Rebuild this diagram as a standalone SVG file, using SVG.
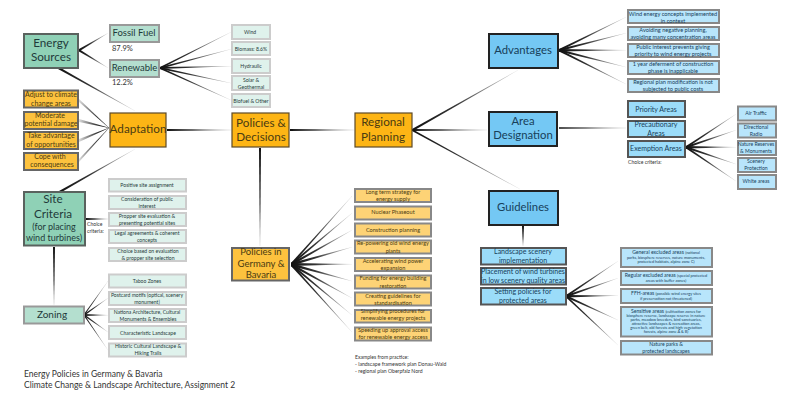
<svg xmlns="http://www.w3.org/2000/svg" width="800" height="400" viewBox="0 0 800 400">
<style>
text{font-family:"Lato","Liberation Sans",sans-serif;text-anchor:middle;fill:#1f3a3a}
.s{text-anchor:start;fill:#333}
.g1{fill:#8fd1b6;stroke:#5a625e;stroke-width:2}
.g2{fill:#b4dfcf;stroke:#999;stroke-width:2}
.g3{fill:#dff2ec;stroke:#ccc;stroke-width:2}
.o1{fill:#fdb515;stroke:#5c4a28;stroke-width:1.2}
.o2{fill:#fdc23e;stroke:#666;stroke-width:2}
.o3{fill:#fdd376;stroke:#888;stroke-width:2}
.b1{fill:#74c8f4;stroke:#222;stroke-width:2}
.b2{fill:#9bdcf9;stroke:#555;stroke-width:2}
.b3{fill:#b8e5fb;stroke:#888;stroke-width:2}
.o1~text,.o2~text,.o3~text{fill:#4a3b12}
.b1~text,.b2~text,.b3~text{fill:#17405a}
.t12{font-size:11.7px}.t11{font-size:11.3px}.t9{font-size:9.5px}.t7{font-size:7px}.t58{font-size:5.6px}.t5{font-size:5.1px}.t4{font-size:3.9px}
</style>
<defs>
<linearGradient id="lr"><stop offset="0" stop-color="#111"/><stop offset=".4" stop-color="#333"/><stop offset="1" stop-color="#ddd"/></linearGradient>
<linearGradient id="rl" x1="1" x2="0"><stop offset="0" stop-color="#111"/><stop offset=".4" stop-color="#333"/><stop offset="1" stop-color="#ddd"/></linearGradient>
<linearGradient id="tb" x1="0" x2="0" y1="0" y2="1"><stop offset="0" stop-color="#111"/><stop offset=".6" stop-color="#333"/><stop offset="1" stop-color="#ccc"/></linearGradient>
</defs>
<g id="connectors">
<g fill="url(#lr)">
<polygon points="79,49 108,33 108,33.3 79,51.500"/>
<polygon points="79,49 108,67.700 108,68 79,51.500"/>
<polygon points="59,67 135,110.800 135,111 58,69"/>
<polygon points="160,67 231,32 231,32.300 160,69"/>
<polygon points="160,67 231,49 231,49.300 160,69"/>
<polygon points="160,67 231,66 231,66.300 160,69"/>
<polygon points="160,67 231,83 231,83.300 160,69"/>
<polygon points="160,67 231,100 231,100.300 160,69"/>
<polygon points="59,191 135,149 135,149.200 60,193"/>
<polygon points="167,129 231,129.800 231,130.200 167,131"/>
<polygon points="290,129 354,129.800 354,130.200 290,131"/>
<polygon points="86,218 108,218.800 108,219.200 86,220"/>
<polygon points="84,314 108,281 108,281.300 84,316"/>
<polygon points="84,314 108,298 108,298.300 84,316"/>
<polygon points="84,314 108,315 108,315.300 84,316"/>
<polygon points="84,314 108,332 108,332.300 84,316"/>
<polygon points="84,314 108,350 108,350.300 84,316"/>
<polygon points="291,263 352,196 352,196.300 291,266"/>
<polygon points="291,263 352,213 352,213.300 291,266"/>
<polygon points="291,263 352,230 352,230.300 291,266"/>
<polygon points="291,263 352,247 352,247.300 291,266"/>
<polygon points="291,263 352,264 352,264.300 291,266"/>
<polygon points="291,263 352,281 352,281.300 291,266"/>
<polygon points="291,263 352,298 352,298.300 291,266"/>
<polygon points="291,263 352,315 352,315.300 291,266"/>
<polygon points="291,263 352,332 352,332.300 291,266"/>
<polygon points="412,129 518,70 518,70.300 413,131"/>
<polygon points="412,129 487,129.800 487,130.200 412,131"/>
<polygon points="412,129 520,189 520,189.300 412,131"/>
<polygon points="559,49 626,17 626,17.300 559,51.500"/>
<polygon points="559,49 626,33 626,33.300 559,51.500"/>
<polygon points="559,49 626,50 626,50.300 559,51.500"/>
<polygon points="559,49 626,67 626,67.300 559,51.500"/>
<polygon points="559,49 626,84 626,84.300 559,51.500"/>
<polygon points="559,127.300 626,127.800 626,128.200 559,128.700"/>
<polygon points="686,146 736,114 736,114.300 686,148.500"/>
<polygon points="686,146 736,130 736,130.300 686,148.500"/>
<polygon points="686,146 736,147 736,147.300 686,148.500"/>
<polygon points="686,146 736,164 736,164.300 686,148.500"/>
<polygon points="686,146 736,181 736,181.300 686,148.500"/>
<polygon points="566,295 618,261 618,261.300 566,297.500"/>
<polygon points="566,295 618,278 618,278.300 566,297.500"/>
<polygon points="566,295 618,295.500 618,295.800 566,297.500"/>
<polygon points="566,295 618,320 618,320.300 566,297.500"/>
<polygon points="566,295 618,345 618,345.300 566,297.500"/>
</g>
<g fill="url(#rl)">
<polygon points="79,99 109,127.700 109,128 79,102"/>
<polygon points="79,119 109,127.700 109,128 79,122"/>
<polygon points="79,139 109,127.700 109,128 79,142"/>
<polygon points="79,159 109,127.700 109,128 79,162"/>
</g>
<g fill="url(#tb)">
<polygon points="259,148 259.800,246 260.200,246 261,148"/>
<polygon points="53,247 53.800,305 54.200,305 55,247"/>
<polygon points="522,226 522.800,246 523.200,246 524,226"/>
</g>
</g>

<g id="energy-sources"><rect class="g1" x="24" y="34" width="54" height="34"/><text class="t12" x="51" y="47">Energy</text><text class="t12" x="51" y="61">Sources</text></g>
<g id="fossil-fuel"><rect class="g2" x="110" y="25" width="49" height="17"/><text x="134" y="36" font-size="9.500">Fossil Fuel</text><text class="s" x="112" y="51" font-size="7.500">87.9%</text></g>
<g id="renewable"><rect class="g2" x="110" y="60" width="49" height="17"/><text x="134.500" y="71" font-size="9.500">Renewable</text><text class="s" x="112" y="85" font-size="7.500">12.2%</text></g>
<g id="wind"><rect class="g3" x="232" y="25" width="38" height="14"/><text class="t5" x="250" y="34">Wind</text></g>
<g id="biomass"><rect class="g3" x="232" y="42" width="38" height="13"/><text class="t5" x="251" y="50.500">Biomass: 8.6%</text></g>
<g id="hydraulic"><rect class="g3" x="232" y="59" width="38" height="14"/><text class="t5" x="251" y="68">Hydraulic</text></g>
<g id="solar"><rect class="g3" x="232" y="76" width="38" height="14"/><text class="t5" x="251" y="82">Solar &amp;</text><text class="t5" x="251" y="88.500">Geothermal</text></g>
<g id="biofuel"><rect class="g3" x="232" y="94" width="38" height="13"/><text class="t5" x="251" y="103">Biofuel &amp; Other</text></g>

<g id="adaptation"><rect class="o1" x="110" y="113" width="56" height="34"/><text class="t12" x="138" y="133">Adaptation</text></g>
<g id="adjust"><rect class="o2" x="24" y="90.500" width="54" height="17"/><text class="t7" x="51" y="97">Adjust to climate</text><text class="t7" x="51" y="105.500">change areas</text></g>
<g id="moderate"><rect class="o2" x="24" y="112" width="54" height="17"/><text class="t7" x="50" y="117.500">Moderate</text><text class="t7" x="51" y="126">potential damage</text></g>
<g id="take"><rect class="o2" x="24" y="132" width="54" height="17"/><text class="t7" x="51" y="138">Take advantage</text><text class="t7" x="51" y="146.500">of opportunities</text></g>
<g id="cope"><rect class="o2" x="24" y="153" width="54" height="17"/><text class="t7" x="50" y="158.500">Cope with</text><text class="t7" x="52" y="167">consequences</text></g>
<g id="policies-decisions"><rect class="o1" x="232" y="113" width="57" height="34"/><text class="t12" x="261" y="127">Policies &amp;</text><text class="t12" x="261" y="141">Decisions</text></g>
<g id="regional-planning"><rect class="o1" x="355" y="113" width="57" height="34"/><text class="t12" x="383" y="126">Regional</text><text class="t12" x="383" y="141">Planning</text></g>

<g id="site-criteria"><rect class="g1" x="24" y="192" width="61" height="53.500"/><text class="t12" x="53" y="203">Site</text><text class="t12" x="53" y="218">Criteria</text><text x="54" y="230" font-size="9">(for placing</text><text x="54" y="241" font-size="9">wind turbines)</text></g>
<g id="choice"><text class="s t5" x="87" y="226">Choice</text><text class="s t5" x="87" y="232.500">criteria:</text></g>
<g id="site1"><rect class="g3" x="109" y="179" width="77" height="12.500"/><text class="t5" x="147" y="187">Positive site assignment</text></g>
<g id="site2"><rect class="g3" x="109" y="196" width="77" height="13"/><text class="t5" x="147" y="201">Consideration of public</text><text class="t5" x="147" y="208">interest</text></g>
<g id="site3"><rect class="g3" x="109" y="213" width="77" height="13"/><text class="t5" x="147" y="218">Propper site evaluation &amp;</text><text class="t5" x="147" y="225">presenting potential sites</text></g>
<g id="site4"><rect class="g3" x="109" y="230" width="77" height="13"/><text class="t5" x="147" y="235">Legal agreements &amp; coherent</text><text class="t5" x="147" y="242">concepts</text></g>
<g id="site5"><rect class="g3" x="109" y="248" width="77" height="13"/><text class="t5" x="148" y="252.500">Choice based on evaluation</text><text class="t5" x="148" y="259.500">&amp; propper site selection</text></g>
<g id="zoning"><rect class="g2" x="24" y="306.500" width="60" height="17"/><text x="52" y="318" font-size="10">Zoning</text></g>
<g id="zone1"><rect class="g3" x="109" y="274.500" width="77" height="13"/><text class="t5" x="147" y="282.500">Taboo Zones</text></g>
<g id="zone2"><rect class="g3" x="109" y="292" width="77" height="13"/><text class="t5" x="147" y="296.500">Postcard motifs (optical, scenery</text><text class="t5" x="147" y="303.500">monument)</text></g>
<g id="zone3"><rect class="g3" x="109" y="309" width="77" height="13"/><text class="t5" x="147" y="313.500">Nationa Architecture, Cultural</text><text class="t5" x="148" y="320.500">Monuments &amp; Ensembles</text></g>
<g id="zone4"><rect class="g3" x="109" y="326" width="77" height="13"/><text class="t5" x="148" y="334.500">Characteristic Landscape</text></g>
<g id="zone5"><rect class="g3" x="109" y="343.500" width="77" height="13"/><text class="t5" x="148" y="348">Historic Cultural Landscape &amp;</text><text class="t5" x="148" y="355">Hiking Trails</text></g>
<g id="title"><text class="s" x="24" y="377" font-size="8.500">Energy Policies in Germany &amp; Bavaria</text><text class="s" x="24" y="388" font-size="8.500">Climate Change &amp; Landscape Architecture, Assignment 2</text></g>

<g id="policies-germany"><rect class="o2" x="232" y="248" width="57" height="32.500"/><text class="t9" x="261" y="255">Policies in</text><text class="t9" x="261" y="267">Germany &amp;</text><text class="t9" x="261" y="278">Bavaria</text></g>
<g id="p1"><rect class="o3" x="355" y="189" width="76" height="13"/><text class="t58" x="393" y="194">Long term strategy for</text><text class="t58" x="393" y="201">energy supply</text></g>
<g id="p2"><rect class="o3" x="355" y="206.500" width="76" height="13"/><text class="t58" x="393" y="214">Nuclear Phaseout</text></g>
<g id="p3"><rect class="o3" x="355" y="223.500" width="76" height="13"/><text class="t58" x="393" y="232">Construction planning</text></g>
<g id="p4"><rect class="o3" x="355" y="240.500" width="76" height="13"/><text class="t58" x="393" y="245">Re-powering old wind energy</text><text class="t58" x="393" y="253">plants</text></g>
<g id="p5"><rect class="o3" x="355" y="258" width="76" height="13"/><text class="t58" x="393" y="263">Accelerating wind power</text><text class="t58" x="393" y="270">expansion</text></g>
<g id="p6"><rect class="o3" x="355" y="275.500" width="76" height="13"/><text class="t58" x="393" y="280">Funding for energy building</text><text class="t58" x="393" y="288">restoration</text></g>
<g id="p7"><rect class="o3" x="355" y="292.500" width="76" height="13"/><text class="t58" x="393" y="298">Creating guidelines for</text><text class="t58" x="393" y="305">standardisation</text></g>
<g id="p8"><rect class="o3" x="355" y="310" width="76" height="12.500"/><text class="t58" x="393" y="313">Simplifying procedures for</text><text class="t58" x="393" y="320">renewable energy projects</text></g>
<g id="p9"><rect class="o3" x="355" y="327.500" width="76" height="13"/><text class="t58" x="393" y="332">Speeding up approval access</text><text class="t58" x="393" y="339">for renewable energy access</text></g>
<g id="examples"><text class="s t5" x="355" y="359">Examples from practice:</text><text class="s t5" x="355" y="366">- landscape framework plan Donau-Wald</text><text class="s t5" x="355" y="373">- regional plan Oberpfalz Nord</text></g>

<g id="advantages"><rect class="b1" x="489" y="34" width="69" height="34"/><text class="t11" x="523" y="54">Advantages</text></g>
<g id="a1"><rect class="b3" x="628" y="10" width="91" height="13"/><text class="t58" x="673" y="16">Wind energy concepts implemented</text><text class="t58" x="673" y="22.500">in context</text></g>
<g id="a2"><rect class="b3" x="628" y="27" width="91" height="13"/><text class="t58" x="673" y="32">Avoiding negative planning,</text><text class="t58" x="673" y="39">avoiding many concentration areas</text></g>
<g id="a3"><rect class="b3" x="628" y="44" width="91" height="13"/><text class="t58" x="673" y="49">Public interest prevents giving</text><text class="t58" x="673" y="56">priority to wind energy projects</text></g>
<g id="a4"><rect class="b3" x="628" y="61" width="91" height="13"/><text class="t58" x="673" y="66">1 year deferment of construction</text><text class="t58" x="673" y="73">phase is inapplicable</text></g>
<g id="a5"><rect class="b3" x="628" y="79" width="91" height="13"/><text class="t58" x="673" y="83.500">Regional plan modification is not</text><text class="t58" x="673" y="90.500">subjected to public costs</text></g>
<g id="area-designation"><rect class="b1" x="489" y="112" width="68" height="34"/><text class="t11" x="523" y="125">Area</text><text class="t11" x="523" y="139">Designation</text></g>
<g id="priority"><rect class="b2" x="628" y="101" width="57" height="16"/><text class="t7" x="656" y="111.500">Priority Areas</text></g>
<g id="precautionary"><rect class="b2" x="628" y="121" width="57" height="16"/><text class="t7" x="656" y="126.500">Precautionary</text><text class="t7" x="656" y="135.500">Areas</text></g>
<g id="exemption"><rect class="b2" x="628" y="141" width="57" height="16"/><text class="t7" x="656" y="150.500">Exemption Areas</text><text class="s t5" x="628" y="164" style="fill:#333">Choice criteria:</text></g>
<g id="e1"><rect class="b3" x="738" y="106.500" width="38" height="14"/><text class="t5" x="756" y="114.500">Air Traffic</text></g>
<g id="e2"><rect class="b3" x="738" y="123.500" width="38" height="14"/><text class="t5" x="756" y="128.500">Directional</text><text class="t5" x="756" y="135.500">Radio</text></g>
<g id="e3"><rect class="b3" x="738" y="141" width="38" height="14"/><text class="t5" x="756" y="146">Nature Reserves</text><text class="t5" x="756" y="152.500">&amp; Monuments</text></g>
<g id="e4"><rect class="b3" x="738" y="158" width="38" height="14"/><text class="t5" x="756" y="163">Scenery</text><text class="t5" x="756" y="169.500">Protection</text></g>
<g id="e5"><rect class="b3" x="738" y="175" width="38" height="14"/><text class="t5" x="756" y="183">White areas</text></g>
<g id="guidelines"><rect class="b1" x="489" y="191" width="69" height="34"/><text class="t11" x="523" y="211">Guidelines</text></g>
<g id="landscape"><rect class="b2" x="481" y="248" width="85" height="16.500"/><text class="t7" x="523" y="253.500">Landscape scenery</text><text class="t7" x="523" y="262.500">implementation</text></g>
<g id="placement"><rect class="b2" x="481" y="268" width="85" height="16.500"/><text class="t7" x="523" y="273.500">Placement of wind turbines</text><text class="t7" x="523" y="282.500">in low scenery quality areas</text></g>
<g id="setting"><rect class="b2" x="481" y="288" width="85" height="16.500"/><text class="t7" x="523" y="293.500">Setting policies for</text><text class="t7" x="523" y="302.500">protected areas</text></g>
<g id="x1"><rect class="b3" x="621" y="248" width="91" height="19"/><text class="t5" x="666" y="254">General excluded areas <tspan class="t4">(national</tspan></text><text class="t4" x="666" y="258.500">parks, biosphere reserves, nature monuments,</text><text class="t4" x="666" y="262.500">protected habitats, alpine zone C)</text></g>
<g id="x2"><rect class="b3" x="621" y="271" width="91" height="14"/><text class="t5" x="666" y="276.500">Regular excluded areas <tspan class="t4">(special protected</tspan></text><text class="t4" x="666" y="281.500">areas with buffer zones)</text></g>
<g id="x3"><rect class="b3" x="621" y="289" width="91" height="14"/><text class="t5" x="666" y="294.500">FFH-areas <tspan class="t4">(possible wind energy sites</tspan></text><text class="t4" x="666" y="299.500">if preservation not threatened)</text></g>
<g id="x4"><rect class="b3" x="621" y="307" width="91" height="29.500"/><text class="t5" x="666" y="312.500">Sensitive areas <tspan class="t4">(cultivation zones for</tspan></text><text class="t4" x="666" y="317">biosphere reserve, landscape reserve in nature</text><text class="t4" x="666" y="321">parks, meadow breeders, bird sanctuaries,</text><text class="t4" x="666" y="325">attractive landscapes &amp; recreation areas,</text><text class="t4" x="666" y="329">green belt, old forests and high vegetation</text><text class="t4" x="666" y="333">forests, alpine zone A &amp; B)</text></g>
<g id="x5"><rect class="b3" x="621" y="341" width="91" height="13.500"/><text class="t5" x="666" y="346">Nature parks &amp;</text><text class="t5" x="666" y="352.500">protected landscapes</text></g>
</svg>
